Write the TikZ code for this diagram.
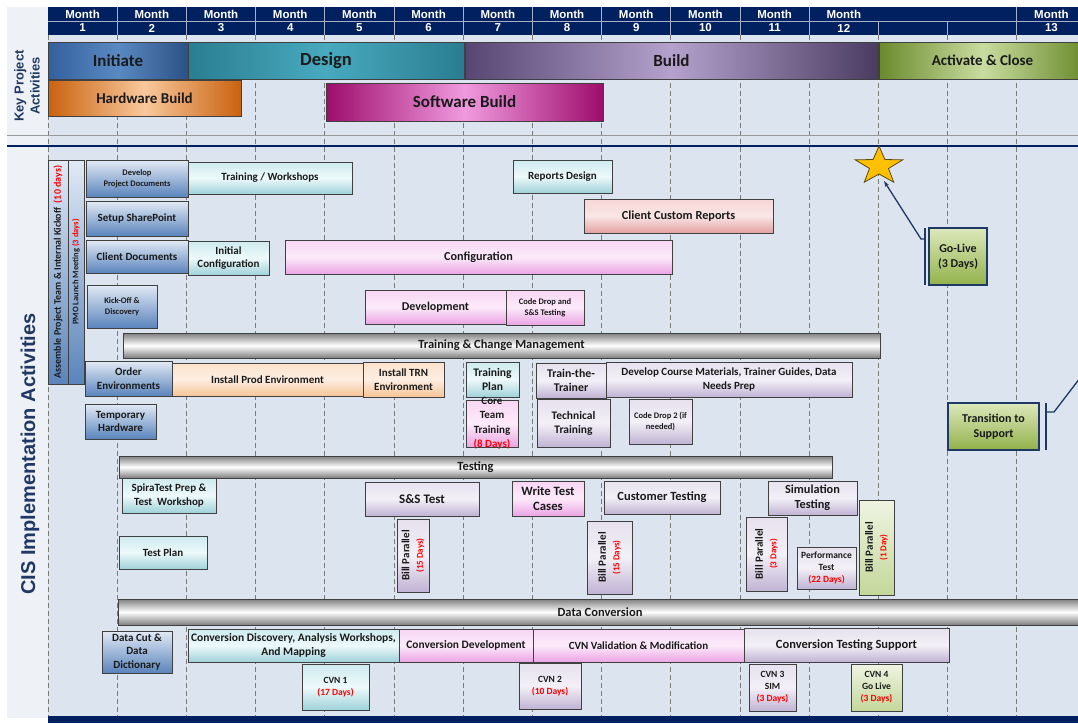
\documentclass[tikz,border=0pt]{standalone}
\usepackage{fontspec}
\setmainfont{Carlito}
\newfontfamily\arialf{Liberation Sans}
\usetikzlibrary{shapes.geometric,arrows.meta}
\definecolor{navy}{HTML}{002060}
\definecolor{lbl}{HTML}{1F3864}
\definecolor{mainbg}{HTML}{DCE4EF}
\definecolor{leftbg}{HTML}{EEF1F5}
\definecolor{gridc}{HTML}{7A7A7A}
\definecolor{boxline}{HTML}{404040}
\definecolor{txt}{HTML}{1A1A1A}
\definecolor{blT}{HTML}{E2EAF5}
\definecolor{blB}{HTML}{5A84BC}
\definecolor{cyT}{HTML}{CDEBEF}
\definecolor{cyM}{HTML}{EEF9FA}
\definecolor{cyB}{HTML}{9FD2DA}
\definecolor{pkT}{HTML}{F8D6F4}
\definecolor{pkM}{HTML}{FCEAFA}
\definecolor{pkB}{HTML}{EBA4E4}
\definecolor{lvT}{HTML}{E6E1EE}
\definecolor{lvM}{HTML}{F3F0F7}
\definecolor{lvB}{HTML}{C0B3D4}
\definecolor{pcT}{HTML}{FDE2CC}
\definecolor{pcM}{HTML}{FDEEE2}
\definecolor{pcB}{HTML}{F7C496}
\definecolor{rsT}{HTML}{F8D6D6}
\definecolor{rsM}{HTML}{FAE6E6}
\definecolor{rsB}{HTML}{E3A0A0}
\definecolor{gnT}{HTML}{DCE8BC}
\definecolor{gnB}{HTML}{92B24A}
\definecolor{lgT}{HTML}{EFF4E2}
\definecolor{lgB}{HTML}{C4D79A}
\definecolor{svE}{HTML}{7E7E7E}
\definecolor{starfill}{HTML}{FFC000}
\definecolor{starline}{HTML}{5A4A10}
\definecolor{iniE}{HTML}{33609D}
\definecolor{iniM}{HTML}{5A89C2}
\definecolor{desE}{HTML}{2A7D91}
\definecolor{desM}{HTML}{48AABF}
\definecolor{bldE}{HTML}{574672}
\definecolor{bldM}{HTML}{B4A2CD}
\definecolor{actE}{HTML}{6A8A2C}
\definecolor{actM}{HTML}{C9DCA0}
\definecolor{hwE}{HTML}{C9620F}
\definecolor{hwM}{HTML}{F9C89C}
\definecolor{swE}{HTML}{9E0D6C}
\definecolor{swM}{HTML}{F09ADF}
\newcommand{\gb}[7]{\node[#1,minimum width={(#4-#2)*1pt},minimum height={(#5-#3)*1pt}] (#7) at ({(#2+#4)/2},{-(#3+#5)/2}) {#6};}
\newcommand{\gbr}[7]{\node[#1,rotate=90,minimum width={(#5-#3)*1pt},minimum height={(#4-#2)*1pt}] (#7) at ({(#2+#4)/2},{-(#3+#5)/2}) {#6};}
\newcommand{\rd}[1]{\textcolor{red}{#1}}
\begin{document}
\begin{tikzpicture}[x=1pt,y=1pt,
  box/.style={draw=boxline,line width=0.7pt,inner sep=0pt,outer sep=0pt,align=center,text=txt,font=\bfseries\fontsize{11}{13.5}\selectfont},
  fN/.style 2 args={font=\bfseries\fontsize{#1}{#2}\selectfont},
  fS/.style={font=\bfseries\fontsize{8.5}{10.5}\selectfont},
  fM/.style={font=\bfseries\fontsize{9.5}{12}\selectfont},
  fL/.style={font=\bfseries\fontsize{12}{15.5}\selectfont},
  fX/.style={font=\bfseries\fontsize{12.5}{15}\selectfont},
  bl/.style={box,top color=blT,bottom color=blB},
  cy/.style={box,top color=cyT,bottom color=cyB,middle color=cyM},
  pk/.style={box,top color=pkT,bottom color=pkB,middle color=pkM},
  lv/.style={box,top color=lvT,bottom color=lvB,middle color=lvM},
  pc/.style={box,top color=pcT,bottom color=pcB,middle color=pcM},
  rs/.style={box,top color=rsT,bottom color=rsB,middle color=rsM},
  gn/.style={box,top color=gnT,bottom color=gnB,draw=lbl,line width=1.3pt,fL},
  lg/.style={box,top color=lgT,bottom color=lgB},
  sv/.style={box,top color=svE,bottom color=svE,middle color=white,fX},
  key/.style={draw=boxline,line width=0.7pt,inner sep=0pt,outer sep=0pt,text=txt},
  hdr/.style={text=white,font=\arialf\bfseries\fontsize{11.5}{13}\selectfont,inner sep=0pt},
  grid/.style={gridc,line width=0.8pt,dash pattern=on 5pt off 3pt},
  hsep/.style={white!65!navy,line width=0.8pt},
  callout/.style={lbl,line width=1.3pt}]
\useasboundingbox (0,0) rectangle (1078,-723);
\fill[white] (0,0) rectangle (1078,-723);
\fill[leftbg] (7,-7) rectangle (48,-718);
\fill[mainbg] (48,-35) rectangle (1078,-716);
% grid
\foreach \i in {0,...,14} \draw[grid] ({48+69.2*\i},-35) -- ({48+69.2*\i},-716);
\draw[gray!80,line width=0.6pt] (7,-135) -- (1078,-135);
\draw[navy,line width=2.6pt] (7,-146) -- (1078,-146);
\fill[navy] (48,-716) rectangle (1078,-723);
% header
\fill[navy] (48,-7) rectangle (1078,-35);
\draw[hsep] (48,-21) -- (1078,-21);
\foreach \i in {1,...,11,14} \draw[hsep] ({48+69.2*\i},-7) -- ({48+69.2*\i},-21);
\foreach \i in {1,...,14} \draw[hsep] ({48+69.2*\i},-21) -- ({48+69.2*\i},-35);
\foreach \m in {1,...,12} {
  \node[hdr] (mh\m) at ({48+69.2*(\m-0.5)},-14) {Month};
  \node[hdr] (mn\m) at ({48+69.2*(\m-0.5)},-28) {\m};
}
\node[hdr] (mh13) at ({48+69.2*14.5},-14) {Month};
\node[hdr] (mn13) at ({48+69.2*14.5},-28) {13};
% side labels
\node[rotate=90,align=center,text=lbl,font=\arialf\bfseries\fontsize{13}{16}\selectfont] (kpa) at (27,-86) {Key Project\\Activities};
\node[rotate=90,text=lbl,font=\arialf\bfseries\fontsize{20}{24}\selectfont] (cis) at (30,-454) {CIS Implementation Activities};
% key project activities
\gb{key,left color=iniE,right color=iniE!85!black,middle color=iniM,font=\bfseries\fontsize{17}{20}\selectfont}{48}{42}{188}{79}{Initiate}{initiate}
\gb{key,left color=desE,right color=desE,middle color=desM,font=\bfseries\fontsize{18.5}{21}\selectfont}{188}{42}{464}{79}{Design}{design}
\gb{key,left color=bldE,right color=bldE!85!black,middle color=bldM,font=\bfseries\fontsize{17}{20}\selectfont}{465}{42}{878}{79}{Build}{build}
\gb{key,left color=actE,right color=actE,middle color=actM,font=\bfseries\fontsize{15}{18}\selectfont}{879}{42}{1086}{79}{Activate \& Close}{activate}
\gb{key,left color=hwE,right color=hwE,middle color=hwM,font=\bfseries\fontsize{15}{18}\selectfont}{48}{80}{241}{116}{Hardware Build}{hardware}
\gb{key,left color=swE,right color=swE,middle color=swM,font=\bfseries\fontsize{17}{20}\selectfont}{326}{83}{603}{121}{Software Build}{software}
% blue boxes
\gbr{bl,font=\bfseries\fontsize{10}{12}\selectfont}{48}{160}{68}{384}{Assemble Project Team \& Internal Kickoff~~\rd{(10 days)}}{assemble}
\gbr{bl,font=\bfseries\fontsize{8.5}{10}\selectfont}{68}{160}{84}{384}{PMO Launch Meeting \rd{(3 days)}}{pmo}
\gb{bl,fS}{86}{160}{188}{197}{Develop\\Project Documents}{devdoc}
\gb{bl}{86}{201}{188}{236}{Setup SharePoint}{share}
\gb{bl}{86}{240}{188}{273}{Client Documents}{cdoc}
\gb{bl,fS}{87}{285}{157}{328}{Kick-Off \&\\Discovery}{kick}
\gb{bl}{85}{361}{172}{396}{Order\\Environments}{order}
\gb{bl}{85}{404}{156}{439}{Temporary\\Hardware}{temphw}
\gb{bl}{102}{631}{172}{673}{Data Cut \&\\Data\\Dictionary}{datacut}
% cyan boxes
\gb{cy}{188}{162}{352}{194}{Training / Workshops}{trainws}
\gb{cy}{188}{241}{269}{275}{Initial\\Configuration}{initcfg}
\gb{cy}{513}{160}{612}{193}{Reports Design}{repdes}
\gb{cy,fN={11.6}{13.5}}{466}{362}{519}{397}{Training\\Plan}{trplan}
\gb{cy}{122}{478}{216}{513}{SpiraTest Prep \&\\Test~~Workshop}{spira}
\gb{cy}{119}{536}{207}{569}{Test Plan}{testplan}
\gb{cy,fN={11.5}{14}}{188}{629}{399}{662}{Conversion Discovery, Analysis Workshops,\\And Mapping}{convdisc}
\gb{cy,fM}{302}{664}{369}{710}{CVN 1\\\rd{(17 Days)}}{cvn1}
% pink boxes
\gb{pk,fN={12.2}{14}}{285}{240}{672}{274}{Configuration}{config}
\gb{pk,fN={12}{14}}{365}{290}{506}{324}{Development}{devel}
\gb{pk,fS}{506}{290}{584}{325}{Code Drop and\\S\&S Testing}{codedrop}
\gb{pk}{466}{400}{518}{447}{\raisebox{-5pt}{\smash{\parbox[c]{50pt}{\centering\baselineskip=14.3pt Core\\Team\\Training\\\rd{(8 Days)}}}}}{core}
\gb{pk,fN={12.7}{15}}{512}{481}{584}{516}{Write Test\\Cases}{writetc}
\gb{pk,fN={11.4}{14}}{399}{629}{533}{662}{Conversion Development}{convdev}
\gb{pk}{533}{629}{744}{662}{CVN Validation \& Modification}{cvnval}
% lavender boxes
\gb{lv,fN={11.8}{14}}{536}{363}{606}{398}{Train-the-\\Trainer}{ttt}
\gb{lv}{606}{362}{852}{397}{Develop Course Materials, Trainer Guides, Data\\Needs Prep}{course}
\gb{lv,fN={11.5}{14}}{537}{399}{610}{447}{Technical\\Training}{tech}
\gb{lv,fS}{629}{399}{692}{444}{Code Drop 2 (if\\needed)}{cd2}
\gb{lv,fN={13}{15}}{365}{482}{479}{516}{S\&S Test}{sstest}
\gb{lv,fN={12.5}{15}}{604}{481}{720}{514}{Customer Testing}{custtest}
\gb{lv,fN={12.3}{15}}{768}{481}{857}{515}{Simulation\\Testing}{simtest}
\gbr{lv}{397}{519}{429}{592}{Bill Parallel\\{\fontsize{9}{11}\selectfont\rd{(15 Days)}}}{bp1}
\gbr{lv}{587}{521}{632}{594}{Bill Parallel\\{\fontsize{9}{11}\selectfont\rd{(15 Days)}}}{bp2}
\gbr{lv}{746}{517}{787}{591}{Bill Parallel\\{\fontsize{9}{11}\selectfont\rd{(3 Days)}}}{bp3}
\gb{lv,fM}{797}{547}{856}{589}{Performance\\Test\\\rd{(22 Days)}}{perf}
\gb{lv,fN={12.5}{15}}{744}{628}{949}{662}{Conversion Testing Support}{cts}
\gb{lv,fM}{519}{663}{581}{709}{CVN 2\\\rd{(10 Days)}}{cvn2}
\gb{lv,fM}{749}{664}{796}{711}{CVN 3\\SIM\\\rd{(3 Days)}}{cvn3}
% peach, rose
\gb{pc}{172}{363}{363}{396}{Install Prod Environment}{instprod}
\gb{pc}{363}{362}{444}{397}{Install TRN\\Environment}{insttrn}
\gb{rs,fN={12.3}{14}}{584}{199}{773}{233}{Client Custom Reports}{ccr}
% green
\gb{gn}{929}{228}{987}{285}{Go-Live\\(3 Days)}{golive}
\gb{gn}{948}{403}{1039}{450}{Transition to\\Support}{trans}
\gbr{lg}{859}{500}{894}{595}{Bill Parallel\\{\fontsize{9}{11}\selectfont\rd{(1 Day)}}}{bp4}
\gb{lg,fM}{851}{664}{902}{711}{CVN 4\\Go Live\\\rd{(3 Days)}}{cvn4}
% silver bars
\gb{sv}{123}{333}{880}{358}{Training \& Change Management}{tcm}
\gb{sv}{119}{456}{832}{478}{Testing}{testing}
\gb{sv}{118}{599}{1082}{625}{Data Conversion}{dconv}
% star
\begin{scope}[shift={(879,-166)},xscale=1.25]
\node[star,star points=5,star point ratio=2.5,minimum size=40pt,inner sep=0pt,draw=starline,fill=starfill,line width=0.8pt,transform shape] (star) at (0,0) {};
\end{scope}
% callouts
\coordinate (glA) at (925,-228);
\coordinate (glB) at (925,-285);
\coordinate (glK) at (925,-239);
\coordinate (glE) at (921,-239);
\coordinate (glT) at (884,-181);
\draw[callout] (glA) -- (glB);
\draw[callout,-{Stealth[length=6pt,width=4pt]}] (glK) -- (glE) -- (glT);
\coordinate (trA) at (1046,-403);
\coordinate (trB) at (1046,-450);
\coordinate (trK) at (1046,-412);
\coordinate (trE) at (1054,-412);
\coordinate (trT) at (1080,-378);
\draw[callout] (trA) -- (trB);
\draw[callout] (trK) -- (trE) -- (trT);
\end{tikzpicture}
\end{document}
